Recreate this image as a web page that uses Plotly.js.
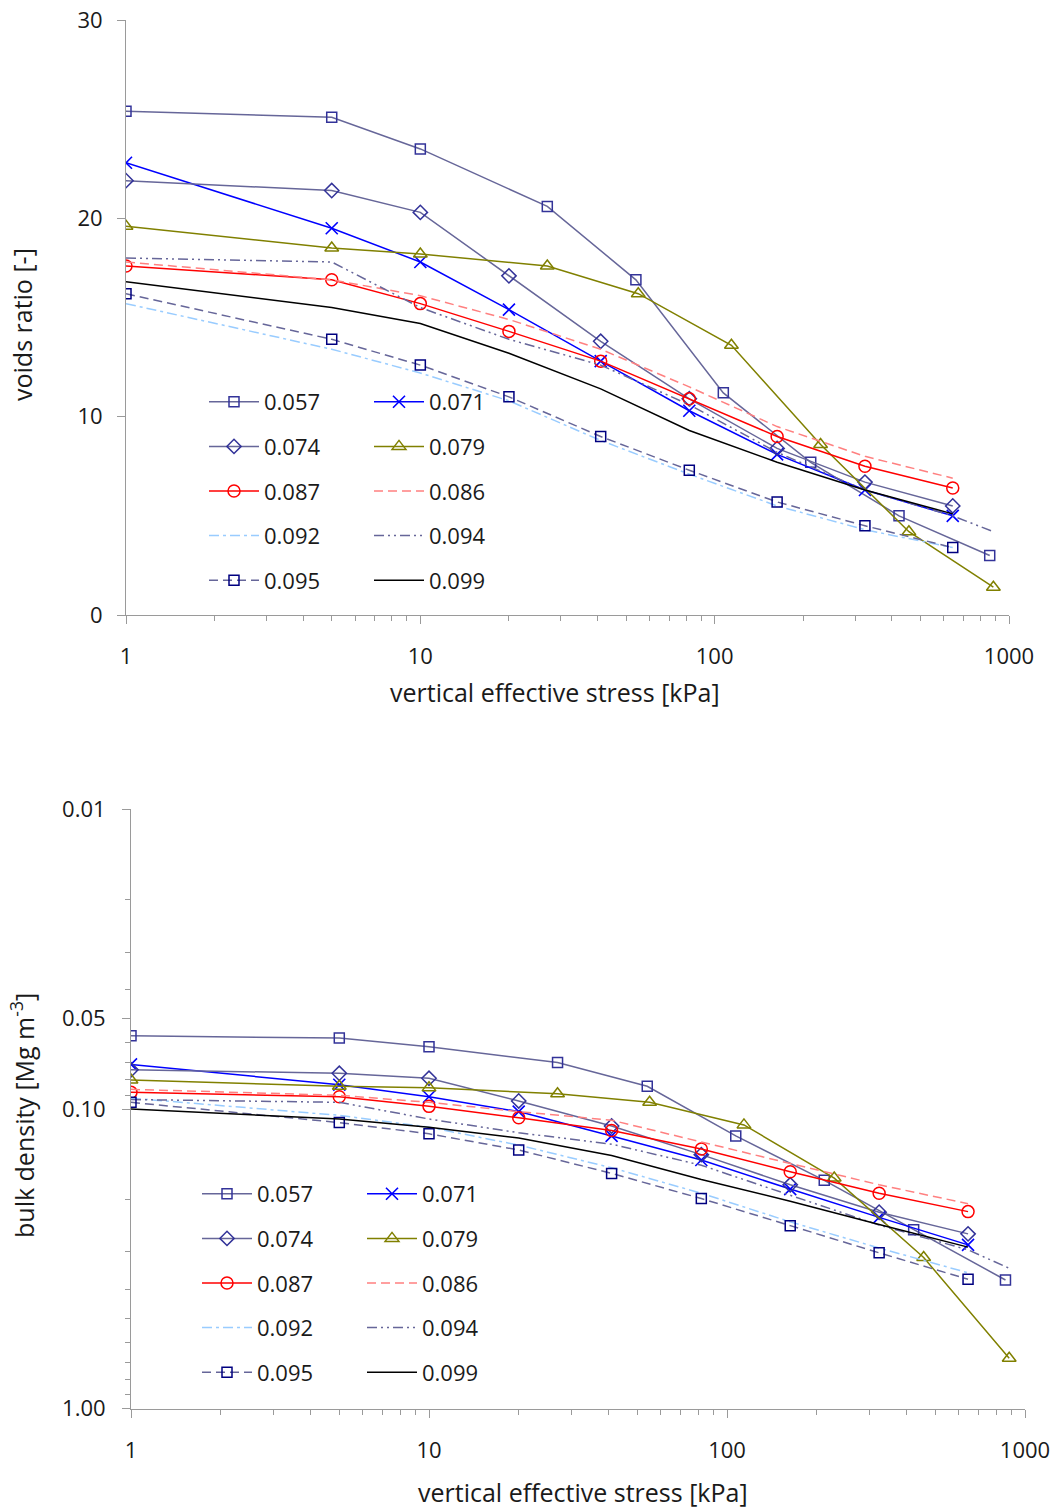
<!DOCTYPE html>
<html><head><meta charset="utf-8">
<script src="https://cdn.plot.ly/plotly-3.0.1.min.js"></script>
<style>html,body{margin:0;padding:0;background:#fff}#chart{width:1063px;height:1509px}</style>
</head><body><div id="chart"></div>
<script>
// ---------- data ----------
const seriesNames = ['0.057','0.071','0.074','0.079','0.087','0.086','0.092','0.094','0.095','0.099'];
// vertical effective stress [kPa]
const xStd = [1, 5, 10, 20, 41, 82, 163, 324, 644];
const x057 = [1, 5, 10, 27, 54, 107, 212, 423, 860];
const x079 = [1, 5, 10, 27, 55, 114, 229, 457, 885];
const x094 = [1, 5, 10, 20, 41, 82, 163, 324, 644, 885];
// voids ratio [-]
const e057 = [25.4, 25.1, 23.5, 20.6, 16.9, 11.2, 7.7, 5.0, 3.0];
const e071 = [22.8, 19.5, 17.8, 15.4, 12.8, 10.3, 8.1, 6.3, 5.0];
const e074 = [21.9, 21.4, 20.3, 17.1, 13.8, 10.9, 8.4, 6.7, 5.5];
const e079 = [19.6, 18.5, 18.2, 17.6, 16.2, 13.6, 8.6, 4.2, 1.4];
const e087 = [17.6, 16.9, 15.7, 14.3, 12.8, 10.9, 9.0, 7.5, 6.4];
const e086 = [17.8, 16.9, 16.1, 14.9, 13.4, 11.5, 9.5, 8.0, 6.9];
const e092 = [15.7, 13.4, 12.2, 10.8, 8.8, 7.1, 5.5, 4.3, 3.4];
const e094 = [18.0, 17.8, 15.5, 13.9, 12.6, 10.6, 8.2, 6.3, 5.0, 4.2];
const e095 = [16.2, 13.9, 12.6, 11.0, 9.0, 7.3, 5.7, 4.5, 3.4];
const e099 = [16.8, 15.5, 14.7, 13.2, 11.4, 9.3, 7.7, 6.3, 5.1];
// bulk density [Mg m-3]
const r057 = [0.057, 0.058, 0.062, 0.070, 0.084, 0.123, 0.173, 0.253, 0.372];
const r071 = [0.071, 0.083, 0.091, 0.102, 0.123, 0.148, 0.185, 0.230, 0.284];
const r074 = [0.074, 0.076, 0.079, 0.094, 0.114, 0.142, 0.179, 0.221, 0.261];
const r079 = [0.080, 0.084, 0.085, 0.089, 0.095, 0.113, 0.170, 0.313, 0.679];
const r087 = [0.088, 0.091, 0.098, 0.107, 0.118, 0.136, 0.162, 0.191, 0.220];
const r086 = [0.086, 0.090, 0.095, 0.102, 0.109, 0.129, 0.152, 0.179, 0.207];
const r092 = [0.092, 0.105, 0.115, 0.132, 0.157, 0.191, 0.238, 0.291, 0.352];
const r094 = [0.093, 0.095, 0.108, 0.120, 0.131, 0.154, 0.194, 0.244, 0.295, 0.340];
const r095 = [0.095, 0.111, 0.121, 0.137, 0.164, 0.199, 0.245, 0.302, 0.370];
const r099 = [0.100, 0.108, 0.115, 0.125, 0.143, 0.172, 0.203, 0.243, 0.289];
// ticks
const xTickVals = [1, 10, 100, 1000];
const xTickText = ['1', '10', '100', '1000'];
const yTopTickVals = [0, 10, 20, 30];
const yTopTickText = ['0', '10', '20', '30'];
const yBotTickVals = [0.01, 0.05, 0.1, 1];
const yBotTickText = ['0.01', '0.05', '0.10', '1.00'];

// ---------- styles ----------
const FONT = 'Open Sans, Noto Sans, sans-serif';
const TXT = '#1a1a1a';
const AX = '#9a9a9a';
const SLATE = '#666699', INDIGO = '#333399';
const styles = {
  '0.057': {mode:'lines+markers', line:{color:SLATE,width:1.5}, marker:{symbol:'square-open',size:10,color:INDIGO,line:{width:1.5}}},
  '0.071': {mode:'lines+markers', line:{color:'#0000FF',width:1.5}, marker:{symbol:'x-thin-open',size:12,color:'#0000FF',line:{width:1.6,color:'#0000FF'}}},
  '0.074': {mode:'lines+markers', line:{color:SLATE,width:1.5}, marker:{symbol:'diamond-open',size:11,color:INDIGO,line:{width:1.5}}},
  '0.079': {mode:'lines+markers', line:{color:'#808000',width:1.5}, marker:{symbol:'triangle-up-open',size:12,color:'#808000',line:{width:1.5}}},
  '0.087': {mode:'lines+markers', line:{color:'#FF0000',width:1.5}, marker:{symbol:'circle-open',size:12,color:'#FF0000',line:{width:1.5}}},
  '0.086': {mode:'lines', line:{color:'#FF8080',width:1.5,dash:'9px,5px'}},
  '0.092': {mode:'lines', line:{color:'#99CCFF',width:1.5,dash:'10px,4px,3px,4px'}},
  '0.094': {mode:'lines', line:{color:SLATE,width:1.5,dash:'10px,4px,2px,4px,2px,4px'}},
  '0.095': {mode:'lines+markers', line:{color:SLATE,width:1.5,dash:'9px,5px'}, marker:{symbol:'square-open',size:10,color:'#000080',line:{width:1.5}}},
  '0.099': {mode:'lines', line:{color:'#000000',width:1.5}}
};
const col1 = ['0.057','0.074','0.087','0.092','0.095'];

const topData = {
  '0.057':[x057,e057], '0.071':[xStd,e071], '0.074':[xStd,e074], '0.079':[x079,e079],
  '0.087':[xStd,e087], '0.086':[xStd,e086], '0.092':[xStd,e092], '0.094':[x094,e094],
  '0.095':[xStd,e095], '0.099':[xStd,e099]
};
const botData = {
  '0.057':[x057,r057], '0.071':[xStd,r071], '0.074':[xStd,r074], '0.079':[x079,r079],
  '0.087':[xStd,r087], '0.086':[xStd,r086], '0.092':[xStd,r092], '0.094':[x094,r094],
  '0.095':[xStd,r095], '0.099':[xStd,r099]
};

const traces = [];
seriesNames.forEach(n => {
  const s = styles[n];
  const inCol1 = col1.includes(n);
  traces.push(Object.assign({type:'scatter', name:n, x:topData[n][0], y:topData[n][1],
    xaxis:'x', yaxis:'y', legend: inCol1 ? 'legend' : 'legend2', legendgroup:'t'+n}, JSON.parse(JSON.stringify(s))));
});
seriesNames.forEach(n => {
  const s = styles[n];
  const inCol1 = col1.includes(n);
  traces.push(Object.assign({type:'scatter', name:n, x:botData[n][0], y:botData[n][1],
    xaxis:'x2', yaxis:'y2', legend: inCol1 ? 'legend3' : 'legend4', legendgroup:'b'+n}, JSON.parse(JSON.stringify(s))));
});

// minor tick positions (axis structure)
const minorX = [];
for (let d = 1; d <= 100; d *= 10) for (let k = 2; k <= 9; k++) minorX.push(k*d);
const minorYB = [];
for (let d = 0.01; d <= 0.1 + 1e-9; d *= 10) for (let k = 2; k <= 9; k++) { const v = +(k*d).toFixed(3); if (v !== 0.05) minorYB.push(v); }

const W = 1063, H = 1509;
const px = v => v / W, py = v => 1 - v / H;

const tickFont = {family:FONT, size:22, color:TXT};
function xAxis(dom, anchor) {
  return {type:'log', range:[0,3], domain:dom, anchor:anchor, showline:true, linecolor:AX, linewidth:1,
    ticks:'outside', ticklen:8, tickcolor:AX, tickwidth:1, tickmode:'array', tickvals:xTickVals, ticktext:xTickText,
    showgrid:false, zeroline:false, tickfont:tickFont, ticklabelstandoff:14, automargin:false,
    minor:{tickmode:'array', tickvals:minorX, ticks:'outside', ticklen:5, tickcolor:AX, tickwidth:1, showgrid:false}};
}
const legBase = {xanchor:'left', yanchor:'top', bgcolor:'rgba(0,0,0,0)', borderwidth:0,
  font:{family:FONT, size:22, color:TXT}, tracegroupgap:13, traceorder:'grouped', itemwidth:50};

const layout = {
  width:W, height:H, margin:{l:0,r:0,t:0,b:0}, paper_bgcolor:'#fff', plot_bgcolor:'#fff',
  font:{family:FONT, color:TXT},
  xaxis: xAxis([px(126), px(1009)], 'y'),
  yaxis: {range:[0,30], domain:[py(615), py(20)], anchor:'x', showline:true, linecolor:AX, linewidth:1,
    ticks:'outside', ticklen:8, tickcolor:AX, tickmode:'array', tickvals:yTopTickVals, ticktext:yTopTickText,
    showgrid:false, zeroline:false, tickfont:tickFont, ticklabelstandoff:10, automargin:false},
  xaxis2: xAxis([px(131), px(1025)], 'y2'),
  yaxis2: {type:'log', range:[0,-2], domain:[py(1408.7), py(809.3)], anchor:'x2', showline:true, linecolor:AX, linewidth:1,
    ticks:'outside', ticklen:8, tickcolor:AX, tickmode:'array', tickvals:yBotTickVals, ticktext:yBotTickText,
    showgrid:false, zeroline:false, tickfont:tickFont, ticklabelstandoff:12, automargin:false,
    minor:{tickmode:'array', tickvals:minorYB, ticks:'outside', ticklen:5, tickcolor:AX, tickwidth:1, showgrid:false}},
  legend:  Object.assign({}, legBase, {x:px(204), y:py(381)}),
  legend2: Object.assign({}, legBase, {x:px(369), y:py(381)}),
  legend3: Object.assign({}, legBase, {x:px(197), y:py(1173)}),
  legend4: Object.assign({}, legBase, {x:px(362), y:py(1173)}),
  showlegend:true,
  annotations: [
    {text:'voids ratio [-]', xref:'paper', yref:'paper', x:px(22), y:py(325), textangle:-90, showarrow:false, xanchor:'center', yanchor:'middle', font:{family:FONT,size:25,color:TXT}},
    {text:'vertical effective stress [kPa]', xref:'paper', yref:'paper', x:px(555), y:py(692), showarrow:false, xanchor:'center', yanchor:'middle', font:{family:FONT,size:25,color:TXT}},
    {text:'bulk density [Mg m<sup>-3</sup>]', xref:'paper', yref:'paper', x:px(22), y:py(1116), textangle:-90, showarrow:false, xanchor:'center', yanchor:'middle', font:{family:FONT,size:25,color:TXT}},
    {text:'vertical effective stress [kPa]', xref:'paper', yref:'paper', x:px(583), y:py(1492), showarrow:false, xanchor:'center', yanchor:'middle', font:{family:FONT,size:25,color:TXT}}
  ]
};
Plotly.newPlot('chart', traces, layout, {staticPlot:true, displayModeBar:false});
</script></body></html>
